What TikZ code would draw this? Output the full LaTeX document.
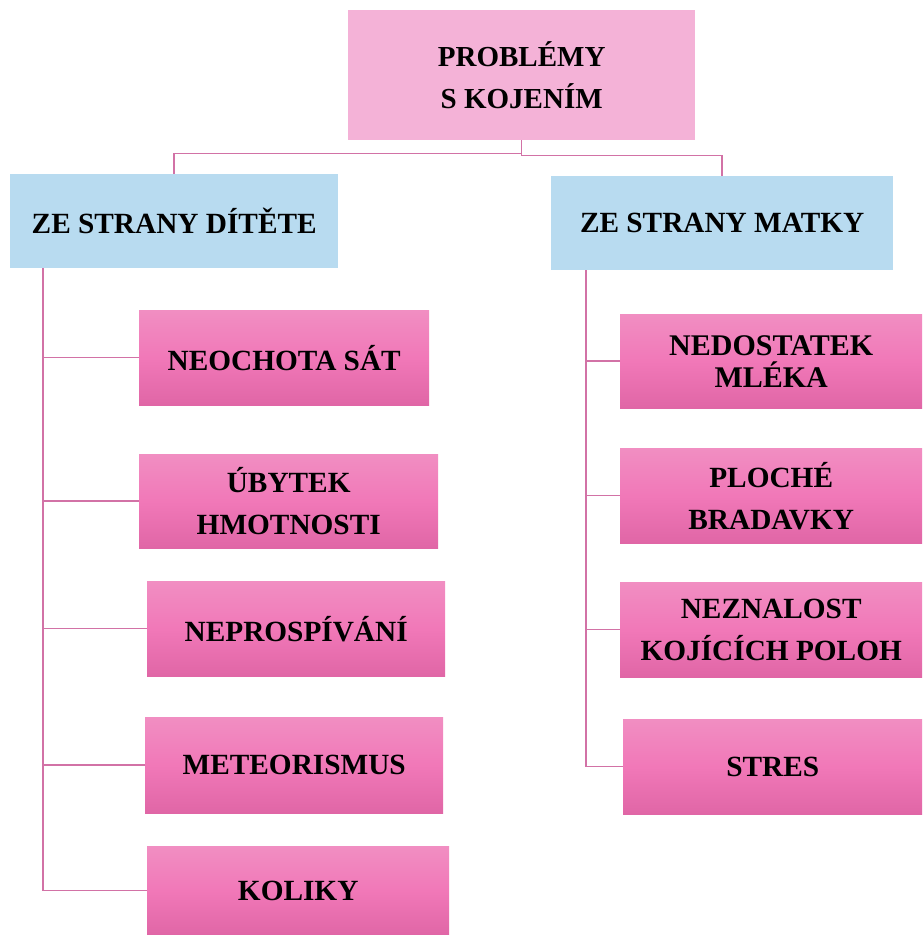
\documentclass[tikz,border=0pt]{standalone}
\usepackage{fontspec}
\setmainfont{Liberation Serif}
\definecolor{rootpink}{HTML}{F4B2D7}
\definecolor{headblue}{HTML}{B8DBF0}
\definecolor{gtop}{HTML}{F18EC2}
\definecolor{gmid}{HTML}{F178B8}
\definecolor{gbot}{HTML}{E066A6}
\definecolor{linec}{HTML}{D272A6}
\tikzset{
  boxbase/.style={anchor=north west, inner sep=0pt, align=center, font=\fontsize{29.3}{42}\selectfont\bfseries},
  rootbox/.style={boxbase, fill=rootpink, font=\fontsize{29}{42}\selectfont\bfseries},
  headbox/.style={boxbase, fill=headblue, font=\fontsize{29.3}{34}\selectfont\bfseries},
  childbox/.style={boxbase, top color=gtop, bottom color=gbot, middle color=gmid},
  tightbox/.style={childbox, font=\fontsize{30}{32}\selectfont\bfseries},
  conn/.style={draw=linec, line width=1.5pt}
}
\begin{document}
\begin{tikzpicture}[x=1pt,y=1pt]
\useasboundingbox (0,0) rectangle (922,-935);
\node[rootbox, minimum width=347, minimum height=130] (root) at (348,-10) {PROBLÉMY\\S KOJENÍM};
\node[headbox, minimum width=328, minimum height=94] (lh) at (10,-174) {ZE STRANY DÍTĚTE};
\node[headbox, minimum width=342, minimum height=94] (rh) at (551,-176) {ZE STRANY MATKY};
% left children
\node[childbox, minimum width=290, minimum height=95] (c1) at (139,-310) {NEOCHOTA SÁT};
\node[childbox, minimum width=299, minimum height=94] (c2) at (139,-454) {ÚBYTEK\\HMOTNOSTI};
\node[childbox, minimum width=298, minimum height=95] (c3) at (147,-581) {NEPROSPÍVÁNÍ};
\node[childbox, minimum width=298, minimum height=96] (c4) at (145,-717) {METEORISMUS};
\node[childbox, minimum width=302, minimum height=89] (c5) at (147,-846) {KOLIKY};
% right children
\node[tightbox, minimum width=302, minimum height=94] (d1) at (620,-314) {NEDOSTATEK\\MLÉKA};
\node[childbox, minimum width=302, minimum height=95] (d2) at (620,-448) {PLOCHÉ\\BRADAVKY};
\node[childbox, minimum width=302, minimum height=95] (d3) at (620,-582) {NEZNALOST\\KOJÍCÍCH POLOH};
\node[childbox, minimum width=299, minimum height=95] (d4) at (623,-719) {STRES};
% connectors
\draw[conn] (root.south) -- ++(0,-13) -| (lh.north);
\draw[conn] (root.south) -- ++(0,-15) -| (rh.north);
\coordinate (ls) at ([xshift=33]lh.south west);
\coordinate (rs) at ([xshift=35]rh.south west);
\draw[conn] (ls) |- (c5.west);
\foreach \n in {c1,c2,c3,c4} \draw[conn] (\n.west) -- (\n.west -| ls);
\draw[conn] (rs) |- (d4.west);
\foreach \n in {d1,d2,d3} \draw[conn] (\n.west) -- (\n.west -| rs);
\end{tikzpicture}
\end{document}
